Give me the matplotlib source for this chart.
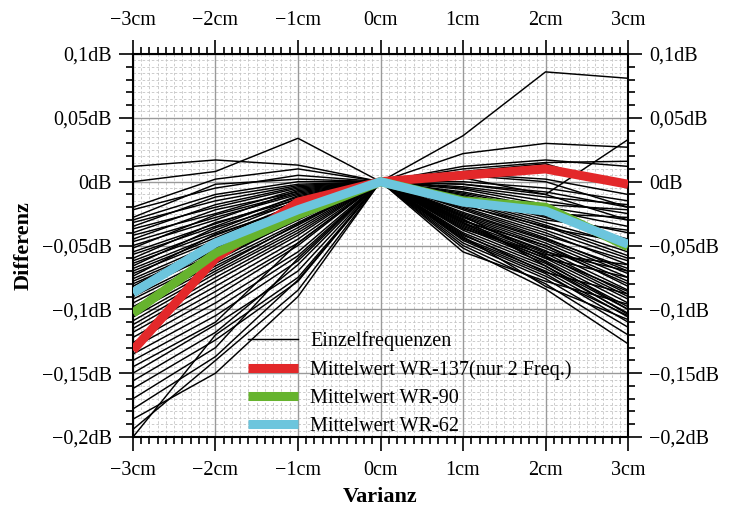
import numpy as np
import matplotlib
matplotlib.use("Agg")
import matplotlib.pyplot as plt
from matplotlib.ticker import MultipleLocator

plt.rcParams['font.family'] = ['Liberation Serif', 'DejaVu Serif']

# Versatz in cm
varianz = [-3, -2, -1, 0, 1, 2, 3]
x_labels = ['\u22123cm', '\u22122cm', '\u22121cm', '0cm', '1cm', '2cm', '3cm']
y_ticks = [0.1, 0.05, 0.0, -0.05, -0.1, -0.15, -0.2]
y_labels = ['0,1dB', '0,05dB', '0dB', '\u22120,05dB', '\u22120,1dB', '\u22120,15dB', '\u22120,2dB']

# Einzelfrequenzen in mdB bei -3,-2,-1,(0),1,2,3 cm
einzel_mdb = [
    [12, 17, 13, -2, -10, -30],
    [0, 8, 34, 5, 0, -20],
    [-20, 2, 10, 36, 86, 81],
    [-22, -5, 5, 22, 30, 27],
    [-28, -2, 2, 12, 17, 12],
    [-30, -10, 0, 10, 15, 16],
    [-32, -15, -3, 8, 14, -5],
    [-35, -12, -2, 6, 2, -10],
    [-37, -20, -5, 3, -10, 33],
    [-40, -18, -4, 0, -5, -15],
    [-42, -25, -6, -2, -8, -20],
    [-45, -22, -8, -4, -12, -18],
    [-47, -28, -10, -5, -15, -25],
    [-50, -30, -7, -6, -18, -22],
    [-52, -26, -9, -8, -20, -30],
    [-55, -33, -12, -9, -22, -35],
    [-57, -35, -11, -10, -25, -28],
    [-60, -32, -14, -11, -27, -40],
    [-62, -38, -13, -12, -28, -45],
    [-64, -40, -15, -13, -30, -38],
    [-66, -36, -16, -14, -32, -50],
    [-68, -42, -18, -15, -34, -55],
    [-70, -44, -17, -16, -36, -48],
    [-72, -46, -19, -18, -38, -60],
    [-74, -41, -20, -19, -35, -58],
    [-76, -48, -21, -20, -40, -65],
    [-78, -50, -22, -21, -42, -62],
    [-80, -52, -24, -22, -44, -70],
    [-82, -47, -23, -24, -45, -68],
    [-84, -54, -25, -25, -46, -72],
    [-86, -56, -26, -26, -48, -75],
    [-88, -53, -28, -27, -50, -78],
    [-90, -58, -27, -28, -52, -80],
    [-92, -60, -30, -30, -54, -85],
    [-95, -62, -29, -31, -50, -82],
    [-98, -64, -32, -32, -56, -88],
    [-100, -66, -34, -33, -58, -90],
    [-103, -68, -33, -35, -60, -92],
    [-106, -70, -36, -36, -62, -95],
    [-109, -72, -38, -38, -64, -98],
    [-112, -75, -40, -40, -66, -100],
    [-115, -78, -42, -42, -68, -103],
    [-118, -82, -45, -44, -70, -106],
    [-122, -86, -48, -45, -72, -110],
    [-126, -90, -50, -46, -74, -105],
    [-130, -95, -55, -48, -76, -114],
    [-135, -100, -58, -50, -80, -120],
    [-140, -105, -62, -52, -84, -127],
    [-145, -110, -48, -43, -82, -108],
    [-150, -112, -70, -55, -78, -96],
    [-156, -118, -65, -41, -71, -88],
    [-162, -124, -78, -37, -57, -65],
    [-170, -130, -60, -34, -60, -75],
    [-178, -137, -77, -30, -55, -70],
    [-186, -150, -90, -29, -66, -104],
    [-194, -140, -85, -32, -63, -100],
    [-200, -120, -75, -27, -59, -86],
]

mittel_wr137 = [-0.132, -0.060, -0.016, 0.0, 0.005, 0.010, -0.002]
mittel_wr90 = [-0.103, -0.056, -0.026, 0.0, -0.015, -0.020, -0.051]
mittel_wr62 = [-0.087, -0.048, -0.022, 0.0, -0.016, -0.023, -0.049]

fig = plt.figure(figsize=(7.29, 5.13), dpi=100)
ax = fig.add_axes([0.1824, 0.1481, 0.6791, 0.7466])

# feines Gitter
for xv in np.arange(-3, 3.01, 0.1):
    ax.axvline(xv, color='#c4c4c4', lw=0.6, ls=(0, (3, 2.5)), zorder=0)
for yv in np.arange(-0.2, 0.1001, 0.005):
    ax.axhline(yv, color='#c4c4c4', lw=0.6, ls=(0, (3, 2.5)), zorder=0)
for xv in varianz:
    ax.axvline(xv, color='#9a9a9a', lw=1.0, zorder=0.5)
for yv in y_ticks:
    ax.axhline(yv, color='#9a9a9a', lw=1.0, zorder=0.5)

for i, row in enumerate(einzel_mdb):
    vals = [v / 1000 for v in row[:3]] + [0.0] + [v / 1000 for v in row[3:]]
    ax.plot(varianz, vals, color='black', lw=1.05, zorder=2,
            label='Einzelfrequenzen' if i == 0 else None)

ax.plot(varianz, mittel_wr137, color='#e3282a', lw=6.5, zorder=3,
        solid_capstyle='butt', label='Mittelwert WR-137(nur 2 Freq.)')
ax.plot(varianz, mittel_wr90, color='#66b32e', lw=6.5, zorder=4,
        solid_capstyle='butt', label='Mittelwert WR-90')
ax.plot(varianz, mittel_wr62, color='#6cc5dd', lw=6.5, zorder=5,
        solid_capstyle='butt', label='Mittelwert WR-62')

ax.set_xlim(-3, 3)
ax.set_ylim(-0.2, 0.1)
ax.set_xticks(varianz)
ax.set_xticklabels(x_labels)
ax.set_yticks(y_ticks)
ax.set_yticklabels(y_labels)
ax.xaxis.set_minor_locator(MultipleLocator(0.1))
ax.yaxis.set_minor_locator(MultipleLocator(0.01))
ax.tick_params(which='both', direction='out', top=True, right=True,
               labeltop=True, labelright=True, labelsize=14.5, width=1.2,
               color='black')
ax.tick_params(which='major', length=10, pad=5)
ax.tick_params(which='minor', length=5)
ax.tick_params(axis='x', which='major', pad=7)
for s in ax.spines.values():
    s.set_linewidth(1.5)

ax.set_xlabel('Varianz', fontsize=16, fontweight='bold', labelpad=5)
ax.set_ylabel('Differenz', fontsize=16, fontweight='bold', labelpad=6)

ax.legend(loc='lower left', bbox_to_anchor=(0.204, -0.035), frameon=False,
          fontsize=14.5, handlelength=2.5, handletextpad=0.6,
          labelspacing=0.45, borderpad=0.2)

fig.savefig('out.png', dpi=100)
